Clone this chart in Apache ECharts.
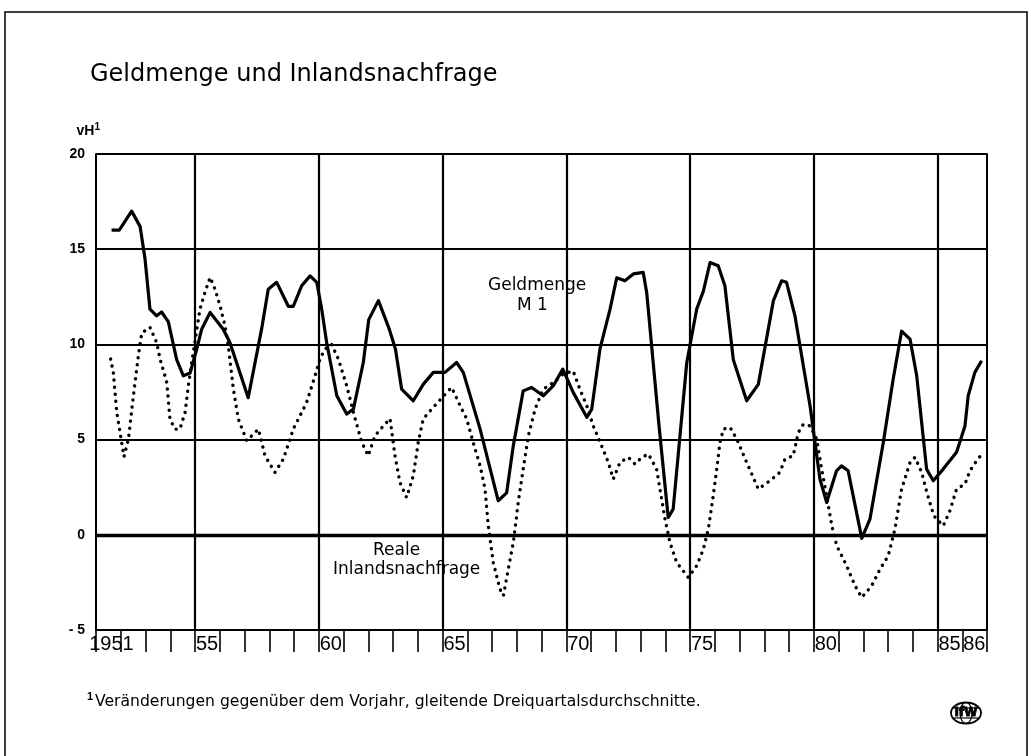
<!DOCTYPE html>
<html><head><meta charset="utf-8">
<script src="https://cdn.jsdelivr.net/npm/echarts@6/dist/echarts.min.js"></script>
<style>html,body{margin:0;padding:0;background:#fff}#c{width:1031px;height:756px}</style>
</head><body><div id="c"></div>
<script>
// ---- data ----
const m1Years = [1951.63,1951.94,1952.44,1952.78,1952.98,1953.18,1953.45,1953.65,1953.92,1954.26,1954.53,1954.80,1955.07,1955.27,1955.61,1956.14,1956.41,1957.15,1957.69,1957.96,1958.30,1958.77,1958.97,1959.31,1959.65,1959.92,1960.12,1960.32,1960.73,1961.13,1961.40,1961.80,1962.02,1962.41,1962.85,1963.10,1963.35,1963.82,1964.22,1964.63,1965.10,1965.57,1965.84,1966.52,1967.25,1967.59,1967.86,1968.26,1968.60,1969.07,1969.48,1969.86,1970.28,1970.83,1971.03,1971.36,1971.77,1972.04,1972.37,1972.71,1973.11,1973.25,1973.75,1974.12,1974.32,1974.87,1975.27,1975.54,1975.81,1976.14,1976.41,1976.75,1977.29,1977.76,1978.37,1978.70,1978.90,1979.24,1979.85,1980.25,1980.52,1980.92,1981.12,1981.39,1981.94,1982.27,1982.81,1983.21,1983.55,1983.89,1984.16,1984.56,1984.83,1985.23,1985.77,1986.11,1986.24,1986.51,1986.78];
const m1Values = [16.0,16.0,17.0,16.2,14.5,11.85,11.5,11.7,11.2,9.2,8.35,8.5,9.75,10.8,11.68,10.8,10.1,7.2,10.8,12.9,13.26,12.0,12.0,13.08,13.6,13.26,11.85,10.1,7.3,6.34,6.6,9.05,11.3,12.3,10.8,9.75,7.65,7.04,7.9,8.53,8.53,9.05,8.53,5.55,1.79,2.2,4.67,7.56,7.74,7.3,7.83,8.7,7.48,6.17,6.6,9.75,11.85,13.5,13.34,13.7,13.78,12.73,5.7,0.91,1.35,9.05,11.85,12.8,14.3,14.13,13.08,9.2,7.04,7.9,12.3,13.34,13.26,11.5,6.78,2.93,1.7,3.36,3.62,3.36,-0.19,0.82,4.85,8.18,10.7,10.28,8.35,3.45,2.84,3.45,4.33,5.72,7.3,8.53,9.14];

const demandYears = [1951.59,1951.70,1951.84,1951.97,1952.13,1952.31,1952.51,1952.71,1952.85,1953.18,1953.45,1953.59,1953.86,1953.99,1954.19,1954.39,1954.60,1954.73,1954.87,1955.20,1955.40,1955.61,1955.81,1956.01,1956.21,1956.35,1956.55,1956.75,1957.09,1957.29,1957.56,1957.83,1958.23,1958.57,1958.97,1959.51,1959.85,1960.05,1960.25,1960.52,1960.79,1961.13,1961.40,1961.74,1962.00,1962.27,1962.61,1962.88,1963.08,1963.28,1963.55,1963.82,1964.02,1964.22,1964.56,1965.23,1965.37,1965.71,1965.98,1966.24,1966.52,1966.72,1966.85,1967.05,1967.32,1967.46,1967.66,1967.86,1968.06,1968.26,1968.47,1968.74,1969.07,1969.48,1969.88,1970.28,1970.55,1970.83,1971.09,1971.43,1971.70,1971.90,1972.17,1972.51,1972.78,1973.05,1973.32,1973.65,1973.99,1974.19,1974.46,1974.93,1975.27,1975.54,1975.74,1975.94,1976.08,1976.21,1976.35,1976.62,1976.89,1977.29,1977.76,1978.23,1978.63,1978.84,1979.17,1979.38,1979.58,1979.85,1980.12,1980.32,1980.52,1980.73,1980.93,1981.33,1981.67,1981.94,1982.34,1982.68,1983.01,1983.28,1983.55,1983.89,1984.09,1984.36,1984.57,1984.85,1985.23,1985.50,1985.77,1986.11,1986.31,1986.58,1986.85];
const demandValues = [9.23,8.53,6.43,5.38,4.1,5.03,7.3,9.4,10.6,10.9,10.1,9.23,8.0,6.08,5.55,5.55,6.43,7.83,9.05,11.85,12.73,13.52,12.9,12.03,11.0,9.9,7.65,6.08,4.94,5.2,5.55,4.15,3.28,3.98,5.55,6.95,8.35,9.23,9.75,10.0,9.23,7.83,6.43,4.85,4.15,5.2,5.72,6.1,4.15,2.75,1.96,3.1,4.85,6.08,6.6,7.56,7.74,6.78,6.08,4.85,3.62,2.4,0.47,-1.45,-2.85,-3.2,-1.8,-0.4,1.7,3.45,5.2,6.6,7.65,8.0,8.44,8.61,7.65,6.78,5.72,4.67,3.8,2.93,3.8,4.07,3.71,4.07,4.24,3.45,0.82,-0.4,-1.45,-2.24,-1.63,-0.75,0.3,2.05,3.45,4.85,5.55,5.64,5.03,3.8,2.4,2.84,3.28,3.98,4.15,5.38,5.81,5.72,5.03,3.45,2.05,0.47,-0.58,-1.63,-2.68,-3.29,-2.68,-1.8,-1.1,0.3,2.4,3.8,4.07,3.28,2.23,1.0,0.47,1.26,2.4,2.66,3.36,3.89,4.33];

const labelYears = [1955,1960,1965,1970,1975,1980,1985,1986];
const firstYearLabel = '1951';
const gridYears = [1955,1960,1965,1970,1975,1980,1985];
const yearMin = 1951, yearMax = 1987;
const valMin = -5, valMax = 20, valStep = 5;

const titleText = 'Geldmenge und Inlandsnachfrage';
const footnoteText = 'Veränderungen gegenüber dem Vorjahr, gleitende Dreiquartalsdurchschnitte.';

// ---- chart ----
const FONT = 'DejaVu Sans';
const NUM = 'Liberation Sans';
const chart = echarts.init(document.getElementById('c'), null, {renderer: 'canvas'});
const pairs = (xs, ys) => xs.map((x, i) => [x, ys[i]]);

const option = {
  animation: false,
  backgroundColor: '#fff',
  title: {
    text: titleText, left: 85, top: 58,
    textStyle: {fontFamily: FONT, fontSize: 24, fontWeight: 'normal', color: '#000'}
  },
  grid: {left: 96, right: 44, top: 154, bottom: 126},
  xAxis: [{
    type: 'value', min: yearMin, max: yearMax, interval: 1, position: 'bottom',
    axisLine: {show: true, onZero: false, lineStyle: {color: '#000', width: 2}},
    axisTick: {show: true, inside: false, length: 22, lineStyle: {color: '#000', width: 1.6}},
    splitLine: {show: false},
    axisLabel: {
      show: true, margin: 4, align: 'left', padding: [0, 0, 0, 1],
      fontFamily: NUM, fontSize: 20, color: '#000',
      showMinLabel: true, showMaxLabel: true,
      formatter: v => labelYears.includes(Math.round(v)) ? String(Math.round(v)).slice(2) : ''
    }
  }, {
    type: 'value', min: yearMin, max: yearMax, interval: 0.125, position: 'bottom',
    axisLine: {show: false, onZero: false}, axisTick: {show: false}, splitLine: {show: false},
    axisLabel: {
      show: true, margin: 4, align: 'center', fontFamily: NUM, fontSize: 20, color: '#000',
      formatter: v => Math.abs(v - (yearMin + 0.625)) < 1e-6 ? firstYearLabel : ''
    }
  }],
  yAxis: [{
    type: 'value', min: valMin, max: valMax, interval: valStep, position: 'left',
    name: '{m|vH}{s|1}', nameLocation: 'end', nameGap: 16,
    nameTextStyle: {
      align: 'right', verticalAlign: 'bottom', padding: [0, -4, 0, 0],
      rich: {
        m: {fontFamily: NUM, fontSize: 14, fontWeight: 'bold', color: '#000', lineHeight: 16, verticalAlign: 'bottom'},
        s: {fontFamily: NUM, fontSize: 10, fontWeight: 'bold', color: '#000', lineHeight: 10, verticalAlign: 'top'}
      }
    },
    axisLine: {show: true, onZero: false, lineStyle: {color: '#000', width: 2}},
    axisTick: {show: false},
    splitLine: {show: true, lineStyle: {color: '#000', width: 2}},
    axisLabel: {
      margin: 11, fontFamily: NUM, fontSize: 14, fontWeight: 'bold', color: '#000',
      formatter: v => v < 0 ? '- ' + Math.abs(v) : String(v)
    }
  }, {
    type: 'value', min: valMin, max: valMax, interval: valStep, position: 'right',
    axisLine: {show: true, onZero: false, lineStyle: {color: '#000', width: 2}},
    axisTick: {show: false}, axisLabel: {show: false}, splitLine: {show: false}
  }],
  series: [{
    name: 'Reale Inlandsnachfrage', type: 'line', xAxisIndex: 0, yAxisIndex: 0,
    data: pairs(demandYears, demandValues),
    showSymbol: false, symbol: 'none', smooth: false, silent: true,
    lineStyle: {color: '#000', width: 3.4, type: [0.1, 7], cap: 'round'},
    z: 3
  }, {
    name: 'Geldmenge M1', type: 'line', xAxisIndex: 0, yAxisIndex: 0,
    data: pairs(m1Years, m1Values),
    showSymbol: false, symbol: 'none', smooth: false, silent: true,
    lineStyle: {color: '#000', width: 3.2, join: 'round'},
    z: 4,
    markLine: {
      silent: true, symbol: ['none', 'none'], label: {show: false},
      lineStyle: {color: '#000', width: 2.2, type: 'solid'},
      emphasis: {disabled: true},
      data: gridYears.map(y => ({xAxis: y})).concat([{yAxis: 0, lineStyle: {color: '#000', width: 3.4, type: 'solid'}}])
    }
  }],
  graphic: [
    {type: 'rect', shape: {x: 5, y: 12, width: 1022, height: 760}, style: {fill: 'none', stroke: '#000', lineWidth: 1.5}, silent: true},
    {type: 'text', left: 488, top: 277, style: {text: 'Geldmenge', font: '17px "DejaVu Sans"', fill: '#000'}},
    {type: 'text', left: 517, top: 297, style: {text: 'M 1', font: '17px "DejaVu Sans"', fill: '#000'}},
    {type: 'text', left: 373, top: 542, style: {text: 'Reale', font: '17px "DejaVu Sans"', fill: '#000'}},
    {type: 'text', left: 333, top: 561, style: {text: 'Inlandsnachfrage', font: '17px "DejaVu Sans"', fill: '#000'}},
    {type: 'text', left: 87, top: 691, style: {text: '1', font: 'bold 11px "Liberation Sans"', fill: '#000'}},
    {type: 'text', left: 95, top: 694, style: {text: footnoteText, font: '15.6px "DejaVu Sans"', fill: '#000'}},
    {type: 'group', x: 966, y: 713, silent: true, children: [
      {type: 'ellipse', shape: {cx: 0, cy: 0, rx: 15, ry: 10.5}, style: {fill: '#fff', stroke: '#000', lineWidth: 1.8}},
      {type: 'ellipse', shape: {cx: 0, cy: 0, rx: 6, ry: 10.5}, style: {fill: 'none', stroke: '#000', lineWidth: 1.2}},
      {type: 'line', shape: {x1: -13, y1: -5, x2: 13, y2: -5}, style: {stroke: '#000', lineWidth: 1.2}},
      {type: 'line', shape: {x1: -13, y1: 5, x2: 13, y2: 5}, style: {stroke: '#000', lineWidth: 1.2}},
      {type: 'text', x: 0, y: 0, style: {text: 'IfW', font: 'bold 12px "DejaVu Sans"', fill: '#000', stroke: '#000', lineWidth: 0.8, align: 'center', verticalAlign: 'middle'}}
    ]}
  ]
};
chart.setOption(option);
</script>
</body></html>
